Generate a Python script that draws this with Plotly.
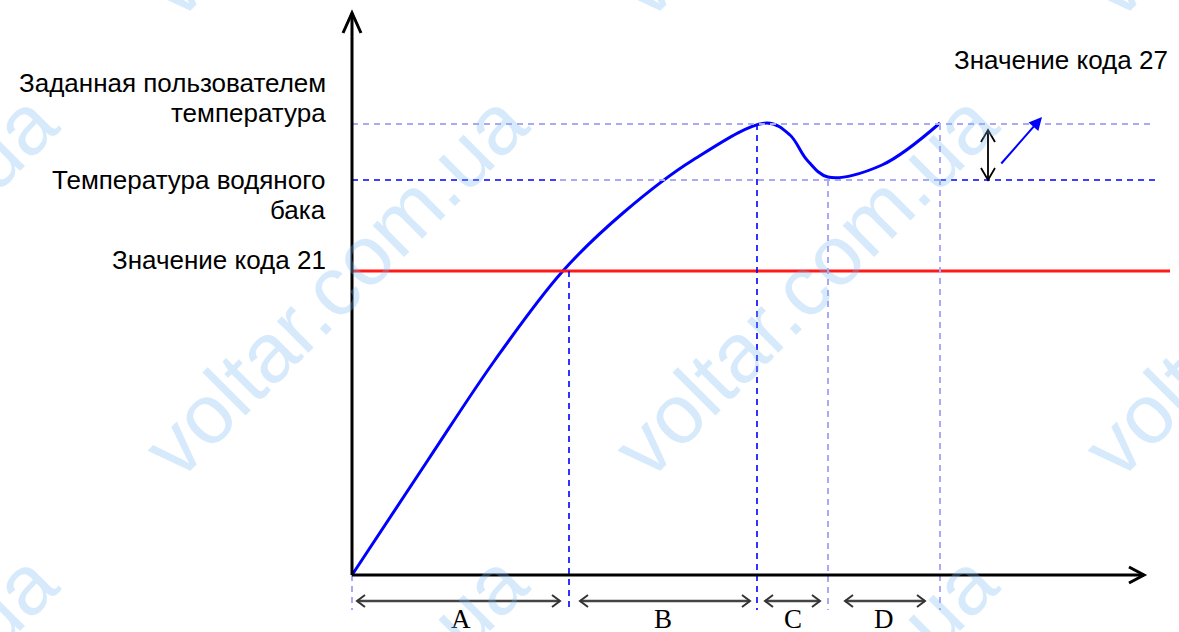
import plotly.graph_objects as go

# Схема работы нагрева: время (усл. ед., от начала координат) и температура (усл. ед.)
curve_t = [0, 76, 143, 210, 271, 341, 415, 438, 455, 476, 530, 588]
curve_T = [0, 115, 215, 303, 362, 415, 452, 440, 415, 398, 410, 452]

T_SET = 451      # заданная пользователем температура
T_TANK = 395     # температура водяного бака
T_CODE21 = 304   # значение кода 21

phase_bounds = [0, 217, 405, 476, 588]
phase_names = ["A", "B", "C", "D"]

BLUE = "#0000ff"
LIGHT = "#a9a9f7"
BLACK = "#000000"
TXT_FONT = "Liberation Sans, Arial, sans-serif"
TXT_SIZE = 26

T_MAX = 818       # правый край горизонтальных линий
T_BOTTOM = -35    # нижний край пунктирных вертикалей

fig = go.Figure()
shapes = []


def line(x0, y0, x1, y1, color, width=2, dash=None):
    shapes.append(dict(type="line", xref="x", yref="y", x0=x0, y0=y0, x1=x1, y1=y1,
                       line=dict(color=color, width=width, dash=dash)))


def chevron(x, y, dx, dy, length, half, color, width):
    # открытая стрелка с вершиной в (x, y), направление (dx, dy)
    px, py = -dy, dx
    a = (x - dx * length + px * half, y - dy * length + py * half)
    b = (x - dx * length - px * half, y - dy * length - py * half)
    shapes.append(dict(type="path", xref="x", yref="y",
                       path=f"M {a[0]} {a[1]} L {x} {y} L {b[0]} {b[1]}",
                       line=dict(color=color, width=width)))


DASH = "6px,5px"

# горизонтальные уровни
line(0, T_SET, 798, T_SET, LIGHT, 2, DASH)
line(0, T_TANK, 208, T_TANK, BLUE, 1.6, DASH)
line(208, T_TANK, phase_bounds[4], T_TANK, LIGHT, 2, DASH)
line(phase_bounds[4], T_TANK, 805, T_TANK, BLUE, 1.6, DASH)
line(0, T_CODE21, T_MAX, T_CODE21, "#ff1a1a", 3)

# вертикальные границы фаз
line(0, 0, 0, T_BOTTOM, LIGHT, 2, DASH)
line(phase_bounds[1], T_CODE21, phase_bounds[1], T_BOTTOM, BLUE, 1.6, DASH)
line(phase_bounds[2], T_SET, phase_bounds[2], T_BOTTOM, BLUE, 1.6, DASH)
line(phase_bounds[3], T_TANK, phase_bounds[3], T_BOTTOM, LIGHT, 2, DASH)
line(phase_bounds[4], T_SET, phase_bounds[4], T_BOTTOM, LIGHT, 2, DASH)

# оси
line(0, 0, 0, 562, BLACK, 3)
chevron(0, 562, 0, 1, 20, 9, BLACK, 3)
line(0, 0, 792, 0, BLACK, 3)
chevron(792, 0, 1, 0, 15, 8, BLACK, 3)

# стрелки фаз
pads_l = [5, 11, 8, 17]
pads_r = [9, 7, 8, 15]
Y_ARR = -26
for i in range(4):
    s = phase_bounds[i] + pads_l[i]
    e = phase_bounds[i + 1] - pads_r[i]
    line(s, Y_ARR, e, Y_ARR, "#444444", 2.5)
    chevron(s, Y_ARR, -1, 0, 8, 6, "#333333", 2)
    chevron(e, Y_ARR, 1, 0, 8, 6, "#333333", 2)

# двойная вертикальная стрелка (гистерезис)
X_DBL = 636
line(X_DBL, T_TANK, X_DBL, 445, BLACK, 1.8)
chevron(X_DBL, 445, 0, 1, 12, 7, BLACK, 1.8)
chevron(X_DBL, T_TANK, 0, -1, 12, 7, BLACK, 1.8)

fig.add_trace(go.Scatter(
    x=curve_t, y=curve_T, mode="lines",
    line=dict(color=BLUE, width=3, shape="spline", smoothing=1.0),
    hoverinfo="skip", showlegend=False,
))

annotations = []

# синяя стрелка к "Значение кода 27"
annotations.append(dict(x=690, y=458, ax=648, ay=410, xref="x", yref="y", axref="x", ayref="y",
                        text="", showarrow=True, arrowhead=2, arrowsize=1.3, arrowwidth=2,
                        arrowcolor=BLUE))

for i, name in enumerate(phase_names):
    annotations.append(dict(x=(phase_bounds[i] + phase_bounds[i + 1]) / 2, y=-27,
                            xref="x", yref="y", text=name, showarrow=False, yanchor="top",
                            font=dict(family="Liberation Serif, Times New Roman, serif", size=27,
                                      color=BLACK)))

labels = [
    ("Заданная пользователем", 492),
    ("температура", 462),
    ("Температура водяного", 395),
    ("бака", 365),
    ("Значение кода 21", 315),
]
for txt, y in labels:
    annotations.append(dict(x=-24, y=y, xref="x", yref="y", text=txt, showarrow=False,
                            xanchor="right", yanchor="middle", align="right",
                            font=dict(family=TXT_FONT, size=TXT_SIZE, color=BLACK)))
annotations.append(dict(x=T_MAX, y=515, xref="x", yref="y", text="Значение кода 27",
                        showarrow=False, xanchor="right", yanchor="middle",
                        font=dict(family=TXT_FONT, size=TXT_SIZE, color=BLACK)))

# водяные знаки
for i in range(-1, 3):
    for j in range(-1, 2):
        cx = (335 + 470 * i) / 1179
        cy = 1 - (285 + 460 * j) / 632
        annotations.append(dict(x=cx, y=cy, xref="paper", yref="paper", text="voltar.com.ua",
                                showarrow=False, textangle=-45, xanchor="center",
                                yanchor="middle",
                                font=dict(family=TXT_FONT, size=84,
                                          color="rgba(120,185,245,0.3)")))

fig.update_layout(
    width=1179, height=632,
    margin=dict(l=0, r=0, t=0, b=0),
    paper_bgcolor="white", plot_bgcolor="white",
    xaxis=dict(range=[-352, 827], visible=False, fixedrange=True),
    yaxis=dict(range=[-57, 575], visible=False, fixedrange=True),
    shapes=shapes,
    annotations=annotations,
    showlegend=False,
)

fig.write_html("out.html", config={"displayModeBar": False},
               post_script="document.body.style.margin='0';")
